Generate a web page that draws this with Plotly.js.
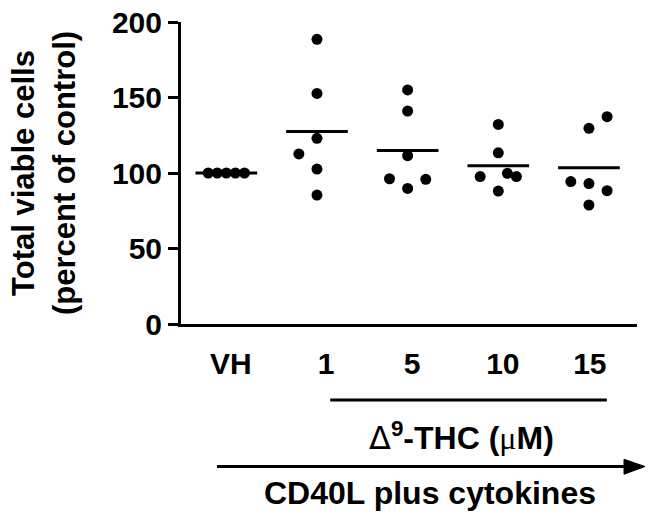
<!DOCTYPE html>
<html>
<head>
<meta charset="utf-8">
<script src="https://cdn.plot.ly/plotly-3.0.1.min.js"></script>
<style>
  body { margin: 0; background: #fff; }
  #chart { width: 654px; height: 519px; }
</style>
</head>
<body>
<div id="chart"></div>
<script>
// Groups along the x axis
const groups = ['VH', '1', '5', '10', '15'];

// Total viable cells, percent of control, one array per group
const vh   = [100, 100, 100, 100, 100];
const thc1 = [188.5, 152.7, 123, 112.6, 102.6, 85.4];
const thc5 = [155, 141, 111.5, 96.2, 95.8, 89.8];
const thc10 = [132.2, 113.4, 97.6, 99.8, 97.6, 88];
const thc15 = [137.3, 129.6, 94.3, 93, 88.3, 78.8];

// horizontal scatter of the dots inside each group (category units)
const vhJit   = [-0.2, -0.1, 0, 0.1, 0.2];
const thc1Jit = [0, 0, 0, -0.2, 0, 0];
const thc5Jit = [0, 0, 0, -0.2, 0.2, 0];
const thc10Jit = [0, 0, -0.2, 0.1, 0.2, 0];
const thc15Jit = [0.2, 0, -0.2, 0, 0.2, 0];

const values = [vh, thc1, thc5, thc10, thc15];
const jitter = [vhJit, thc1Jit, thc5Jit, thc10Jit, thc15Jit];

const FONT = 'Liberation Sans, Arial, sans-serif';
const halfBar = 0.34;

// dots
let dx = [], dy = [];
values.forEach((vals, i) => {
    vals.forEach((v, j) => {
        dx.push(i + jitter[i][j]);
        dy.push(v);
    });
});

// mean lines
let mx = [], my = [];
values.forEach((vals, i) => {
    const m = vals.reduce((a, b) => a + b, 0) / vals.length;
    mx.push(i - halfBar, i + halfBar, null);
    my.push(m, m, null);
});

const traces = [
    {
        x: mx, y: my,
        mode: 'lines',
        line: { color: '#000', width: 3 },
        hoverinfo: 'skip',
        showlegend: false
    },
    {
        x: dx, y: dy,
        mode: 'markers',
        marker: { color: '#000', size: 11 },
        showlegend: false
    }
];

const layout = {
    width: 654,
    height: 519,
    margin: { l: 181, r: 17, t: 22, b: 195 },
    paper_bgcolor: '#fff',
    plot_bgcolor: '#fff',
    font: { family: FONT, size: 30, color: '#000' },
    xaxis: {
        range: [-0.5, 4.53],
        // labels sit a touch right of the dot columns in the original
        tickvals: [0.05, 1.1, 2.05, 3.05, 4.01],
        ticktext: groups.map(g => '<b>' + g + '</b>'),
        ticks: 'outside',
        ticklen: 11,
        tickcolor: 'rgba(0,0,0,0)',
        showline: true,
        linecolor: '#000',
        linewidth: 3,
        showgrid: false,
        zeroline: false,
        tickfont: { family: FONT, size: 30 }
    },
    yaxis: {
        range: [0, 200],
        tickvals: [0, 50, 100, 150, 200],
        ticktext: ['<b>0</b>', '<b>50</b>', '<b>100</b>', '<b>150</b>', '<b>200</b>'],
        ticks: 'outside',
        ticklen: 10,
        tickwidth: 3,
        tickcolor: '#000',
        showline: true,
        linecolor: '#000',
        linewidth: 3,
        showgrid: false,
        zeroline: false,
        tickfont: { family: FONT, size: 30 },
        title: {
            text: '<b>Total viable cells<br>(percent of control)</b>',
            font: { family: FONT, size: 31 },
            standoff: 28
        }
    },
    shapes: [
        // bracket under the THC doses
        {
            type: 'line', xref: 'x', yref: 'paper',
            x0: 1.146, x1: 4.198, y0: -0.252, y1: -0.252,
            line: { color: '#000', width: 3 }
        },
        // arrow shaft
        {
            type: 'line', xref: 'paper', yref: 'paper',
            x0: 0.0789, x1: 0.975, y0: -0.4719, y1: -0.4719,
            line: { color: '#000', width: 3 }
        },
        // arrow head
        {
            type: 'path', xref: 'paper', yref: 'paper',
            path: 'M 1.0175 -0.4719 L 0.9715 -0.4479 L 0.9715 -0.4975 Z',
            fillcolor: '#000',
            line: { color: '#000', width: 1 }
        }
    ],
    annotations: [
        {
            xref: 'paper', yref: 'paper', x: 0.616, y: -0.374,
            xanchor: 'center', yanchor: 'middle',
            text: '<span style="font-family:DejaVu Sans">Δ</span><b><sup>9</sup>-THC (</b><span style="font-family:Liberation Serif">μ</span><b>M)</b>',
            showarrow: false, font: { family: FONT, size: 32 }
        },
        {
            xref: 'paper', yref: 'paper', x: 0.546, y: -0.56,
            xanchor: 'center', yanchor: 'middle',
            text: '<b>CD40L plus cytokines</b>',
            showarrow: false, font: { family: FONT, size: 32 }
        }
    ]
};

Plotly.newPlot('chart', traces, layout, { displayModeBar: false, staticPlot: true });
</script>
</body>
</html>
